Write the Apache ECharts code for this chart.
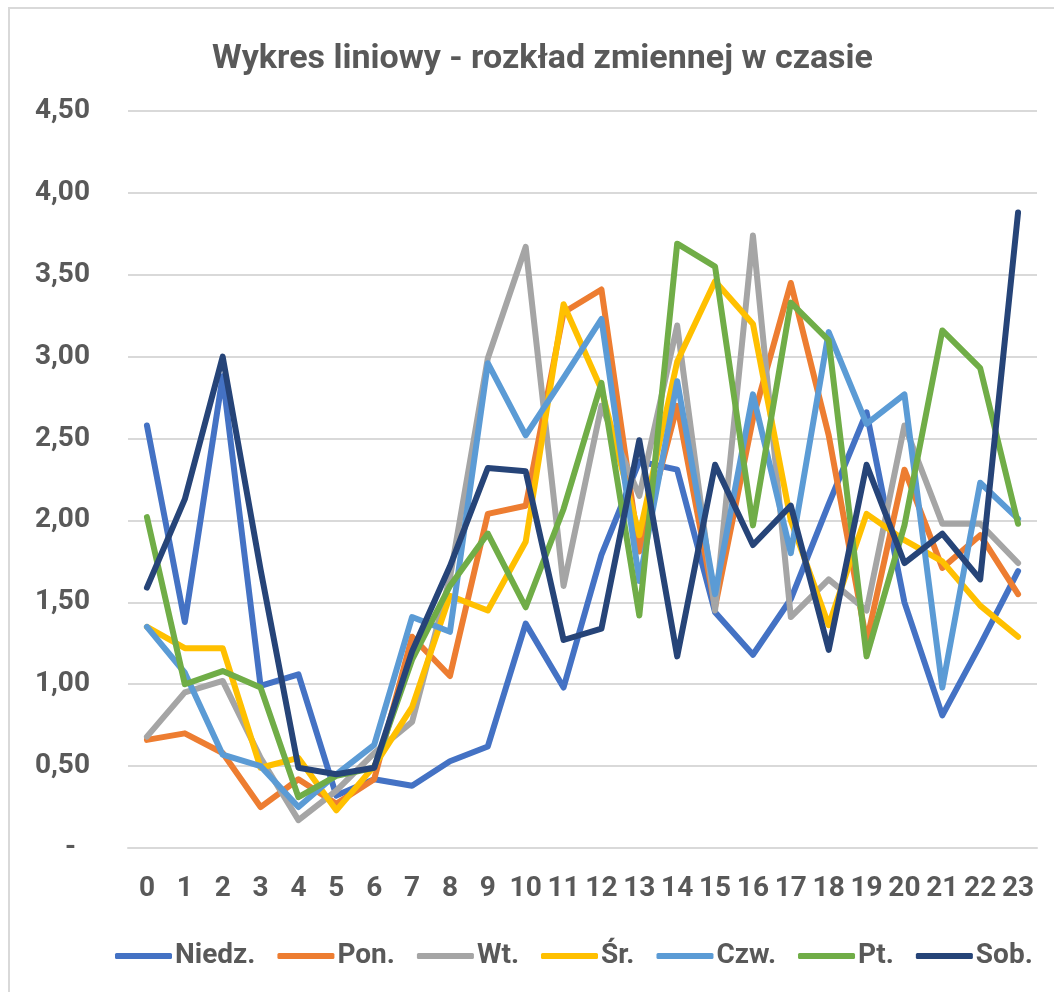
<!DOCTYPE html>
<html>
<head>
    <meta charset="utf-8">
    <title>Wykres liniowy</title>
    <script src="https://cdn.jsdelivr.net/npm/echarts@6/dist/echarts.min.js"></script>
    <style>
        body { margin: 0; background: #ffffff; }
        #frame {
            position: absolute; left: 8px; top: 7px;
            width: 1060px; height: 1000px;
            border: 2px solid #d9d9d9;
        }
        #chart { position: absolute; left: 0; top: 0; width: 1054px; height: 992px; }
    </style>
</head>
<body>
<div id="frame"></div>
<div id="chart"></div>
<script>
    // godziny 0-23
    var hours = ['0','1','2','3','4','5','6','7','8','9','10','11','12','13','14','15','16','17','18','19','20','21','22','23'];
    var dayNames = ['Niedz.', 'Pon.', 'Wt.', 'Śr.', 'Czw.', 'Pt.', 'Sob.'];
    var dayColors = ['#4472C4', '#ED7D31', '#A5A5A5', '#FFC000', '#5B9BD5', '#70AD47', '#264478'];

    var niedz = [2.58, 1.38, 2.88, 0.99, 1.06, 0.32, 0.42, 0.38, 0.53, 0.62, 1.37, 0.98, 1.79, 2.36, 2.31, 1.44, 1.18, 1.52, 2.10, 2.66, 1.50, 0.81, 1.24, 1.69];
    var pon   = [0.66, 0.70, 0.58, 0.25, 0.42, 0.27, 0.42, 1.29, 1.05, 2.04, 2.09, 3.27, 3.41, 1.81, 2.70, 1.47, 2.62, 3.45, 2.52, 1.26, 2.31, 1.71, 1.91, 1.55];
    var wt    = [0.68, 0.95, 1.02, 0.55, 0.17, 0.35, 0.58, 0.77, 1.65, 2.99, 3.67, 1.60, 2.70, 2.15, 3.19, 1.45, 3.74, 1.41, 1.64, 1.45, 2.58, 1.98, 1.98, 1.74];
    var sr    = [1.35, 1.22, 1.22, 0.49, 0.55, 0.23, 0.50, 0.86, 1.54, 1.45, 1.87, 3.32, 2.80, 1.91, 2.97, 3.46, 3.20, 2.00, 1.36, 2.04, 1.88, 1.75, 1.48, 1.29];
    var czw   = [1.35, 1.07, 0.57, 0.50, 0.25, 0.45, 0.63, 1.41, 1.32, 2.96, 2.52, 2.87, 3.23, 1.63, 2.85, 1.55, 2.77, 1.80, 3.15, 2.59, 2.77, 0.98, 2.23, 2.01];
    var pt    = [2.02, 1.00, 1.08, 0.98, 0.31, 0.44, 0.49, 1.15, 1.60, 1.92, 1.47, 2.07, 2.84, 1.42, 3.69, 3.55, 1.97, 3.33, 3.10, 1.17, 1.97, 3.16, 2.93, 1.98];
    var sob   = [1.59, 2.13, 3.00, 1.70, 0.49, 0.45, 0.49, 1.20, 1.72, 2.32, 2.30, 1.27, 1.34, 2.49, 1.17, 2.34, 1.85, 2.09, 1.21, 2.34, 1.74, 1.92, 1.64, 3.88];
    var dayValues = [niedz, pon, wt, sr, czw, pt, sob];

    var fontName = '"Liberation Sans Narrow", "Roboto", sans-serif';
    var textColor = '#595959';

    var chart = echarts.init(document.getElementById('chart'));

    var series = [];
    for (var i = 0; i < dayNames.length; i++) {
        series.push({
            name: dayNames[i],
            type: 'line',
            data: dayValues[i],
            symbol: 'none',
            color: dayColors[i],
            lineStyle: { width: 6, color: dayColors[i], cap: 'round', join: 'round' }
        });
    }

    var option = {
        animation: false,
        textStyle: { fontFamily: fontName },
        title: {
            text: 'Wykres liniowy - rozkład zmiennej w czasie',
            left: 207,
            top: 37,
            textStyle: { fontFamily: fontName, fontSize: 34, fontWeight: 'bold', color: textColor }
        },
        legend: {
            data: dayNames,
            bottom: 17,
            left: 110,
            icon: 'roundRect',
            itemWidth: 57,
            itemHeight: 6,
            itemGap: 22,
            textStyle: { fontFamily: fontName, fontSize: 28, fontWeight: 'bold', color: textColor, padding: [0, 0, 0, -2] }
        },
        grid: { left: 128, right: 17, top: 111, bottom: 144 },
        xAxis: {
            type: 'category',
            data: hours,
            boundaryGap: true,
            axisLine: { lineStyle: { color: '#d9d9d9', width: 2 } },
            axisTick: { show: false },
            axisLabel: { color: textColor, fontFamily: fontName, fontSize: 28, fontWeight: 'bold', margin: 27, interval: 0 }
        },
        yAxis: {
            type: 'value',
            min: 0,
            max: 4.5,
            interval: 0.5,
            axisLine: { show: false },
            axisTick: { show: false },
            splitLine: { lineStyle: { color: '#d9d9d9', width: 2 } },
            axisLabel: {
                color: textColor, fontFamily: fontName, fontSize: 28, fontWeight: 'bold', margin: 38,
                formatter: function (v) {
                    if (v === 0) return '-  ';
                    return v.toFixed(2).replace('.', ',');
                }
            }
        },
        series: series
    };
    chart.setOption(option);
</script>
</body>
</html>
